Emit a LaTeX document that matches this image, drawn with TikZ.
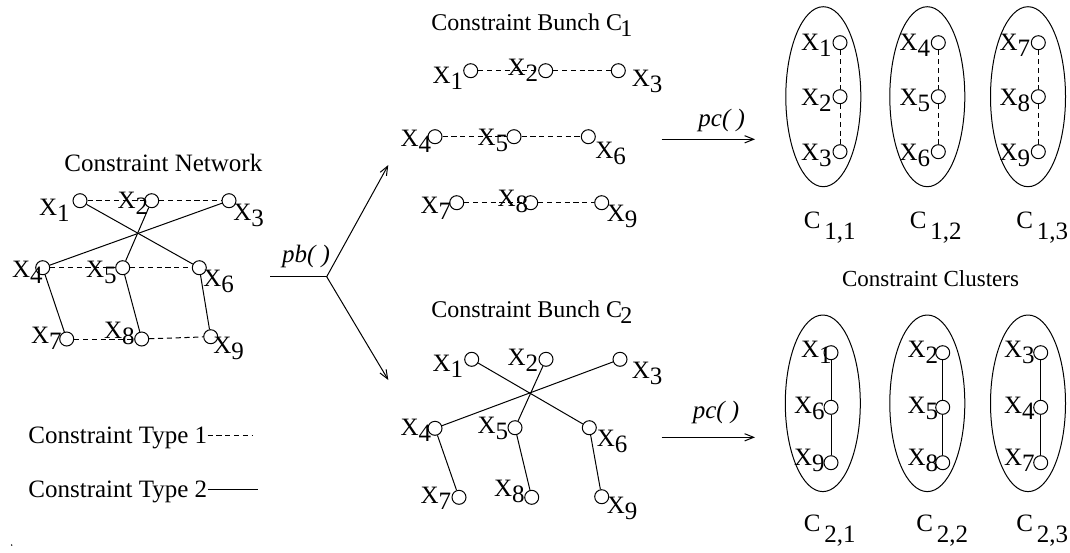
\documentclass[tikz,border=0pt]{standalone}
\usepackage{fontspec}
\setmainfont{Liberation Serif}
\usetikzlibrary{arrows.meta,positioning,shapes.geometric}
\newcommand{\figfont}{\fontsize{12.5}{15}\selectfont}
\newcommand{\lowidx}[1]{\raisebox{-.25em}{#1}}
\newcommand{\clname}[2]{C\hspace{.15em}\raisebox{-.44em}{#1,#2}}
\tikzset{
  >={Straight Barb[length=4.5pt,width=3.6pt]},
  vtx/.style={circle, draw, line width=.5pt, minimum size=7pt, inner sep=0pt},
  lbl/.style={inner sep=0pt, font=\figfont},
  typeone/.style={line width=.5pt, dash pattern=on 2.6pt off 1.8pt},
  typetwo/.style={line width=.5pt},
  flow/.style={->, line width=.5pt},
  cluster/.style={ellipse, draw, line width=.5pt, minimum width=37.5pt, inner sep=0pt}
}

\begin{document}
\begin{tikzpicture}[x=.5pt,y=-.5pt]
  \useasboundingbox (0,0) rectangle (1070,552);

  % constraint network
  \node[lbl,anchor=base] (nettitle) at (163.3,171.5) {Constraint Network};
  \foreach \i/\x/\y/\lx/\ly/\a in {1/80/200.7/70/215/base east, 2/151.7/200.7/148.5/208/base east,
      3/229/200.7/233/220/base west, 4/42.7/267.7/43/277/base east, 5/122.7/267.7/117/277/base east,
      6/199.3/267.7/203/286/base west, 7/66.7/339/62/343/base east, 8/141.7/339/135/338/base east,
      9/210.7/336.7/213/353/base west}{
    \node[vtx] (n\i) at (\x,\y) {};
    \node[lbl,anchor=\a] (nl\i) at (\lx,\ly) {X\lowidx{\i}};
  }
  \foreach \s/\t in {1/2,2/3,4/5,5/6,7/8,8/9} \draw[typeone] (n\s) -- (n\t);
  \foreach \s/\t in {1/6,3/4,2/5,4/7,5/8,6/9} \draw[typetwo] (n\s) -- (n\t);

  % legend
  \node[lbl,anchor=base west] (legone) at (28,443) {Constraint Type 1};
  \coordinate (legoneend) at (253,435);
  \draw[typeone] (legone.east |- legoneend) -- (legoneend);
  \node[lbl,anchor=base west] (legtwo) at (28,497) {Constraint Type 2};
  \coordinate (legtwoend) at (258,489);
  \draw[typetwo] (legtwo.east |- legtwoend) -- (legtwoend);
  \fill (11.7,545) circle (.8);

  % pb( ) splits the network into two bunches
  \coordinate (pbin) at (270,276.7);
  \coordinate (pbfork) at (326.7,276.7);
  \coordinate (pbup) at (388.3,165);
  \coordinate (pbdown) at (388.3,380);
  \draw[typetwo] (pbin) -- (pbfork);
  \draw[flow] (pbfork) -- (pbup);
  \draw[flow] (pbfork) -- (pbdown);
  \node[lbl,font=\figfont\itshape,anchor=base] (pblabel) at (306,262) {pb( )};

  % bunch C1: type 1 constraints only
  \node[lbl,font=\fontsize{12}{14}\selectfont,anchor=base west] (bunchone) at (431,30) {Constraint Bunch C\kern-.07em\lowidx{1}};
  \foreach \i/\x/\y/\lx/\ly/\a in {1/470.7/70.7/463.5/83.3/base east, 2/545.7/70.7/538.5/75/base east,
      3/618.3/70.7/631.5/86.7/base west, 4/435/136.7/431.5/146.7/base east, 5/514/136.7/508.5/145/base east,
      6/588.3/136.7/595/158/base west, 7/456.7/202.7/451.5/213/base east, 8/530.7/202.7/528.5/206.7/base east,
      9/601.7/202.7/606.5/221.7/base west}{
    \node[vtx] (a\i) at (\x,\y) {};
    \node[lbl,anchor=\a] (al\i) at (\lx,\ly) {X\lowidx{\i}};
  }
  \foreach \s/\t in {1/2,2/3,4/5,5/6,7/8,8/9} \draw[typeone] (a\s) -- (a\t);

  % bunch C2: type 2 constraints only
  \node[lbl,font=\fontsize{12}{14}\selectfont,anchor=base west] (bunchtwo) at (431,317.3) {Constraint Bunch C\kern-.07em\lowidx{2}};
  \foreach \i/\x/\y/\lx/\ly/\a in {1/471.7/359.3/463.5/371.7/base east, 2/546/359.3/538.5/365/base east,
      3/620/359.3/631.5/378.3/base west, 4/435/428.3/431.5/435/base east, 5/515/427.7/508.5/433/base east,
      6/589.3/427.7/596.5/446.7/base west, 7/459/497.3/451.5/503.3/base east, 8/531.7/497.3/525/496.7/base east,
      9/601.7/496.7/606.5/513.3/base west}{
    \node[vtx] (b\i) at (\x,\y) {};
    \node[lbl,anchor=\a] (bl\i) at (\lx,\ly) {X\lowidx{\i}};
  }
  \foreach \s/\t in {1/6,3/4,2/5,4/7,5/8,6/9} \draw[typetwo] (b\s) -- (b\t);

  % pc( ) arrows
  \coordinate (pcatail) at (661.7,139.3);
  \coordinate (pcahead) at (755,139.3);
  \draw[flow] (pcatail) -- (pcahead);
  \node[lbl,font=\figfont\itshape,anchor=base] (pcalabel) at (721.7,126.5) {pc( )};
  \coordinate (pcbtail) at (661.7,437.3);
  \coordinate (pcbhead) at (755,437.3);
  \draw[flow] (pcbtail) -- (pcbhead);
  \node[lbl,font=\figfont\itshape,anchor=base] (pcblabel) at (716,418) {pc( )};

  % clusters of bunch C1
  \foreach \k/\ex/\cx/\lx/\p/\q/\r/\nx in {1/823.3/840/832/1/2/3/803.5, 2/927.3/938.3/930.5/4/5/6/909.5,
      3/1028/1038.3/1030.5/7/8/9/1016}{
    \node[cluster,minimum height=90pt] (ea\k) at (\ex,96.7) {};
    \node[vtx] (ct\k) at (\cx,42.7) {};
    \node[vtx] (cm\k) at (\cx,96.7) {};
    \node[vtx] (cb\k) at (\cx,151.7) {};
    \node[lbl,anchor=base east] (ctl\k) at (\lx,50) {X\lowidx{\p}};
    \node[lbl,anchor=base east] (cml\k) at (\lx,105) {X\lowidx{\q}};
    \node[lbl,anchor=base east] (cbl\k) at (\lx,160) {X\lowidx{\r}};
    \draw[typeone] (ct\k) -- (cm\k) -- (cb\k);
    \node[lbl,anchor=base west] (ean\k) at (\nx,228.3) {\clname{1}{\k}};
  }
  \node[lbl,font=\fontsize{11.5}{14}\selectfont,anchor=base] (cltitle) at (930.5,286.7) {Constraint Clusters};

  % clusters of bunch C2
  \foreach \k/\ex/\cx/\lt/\lx/\p/\q/\r/\nx in {1/822.8/831/832/825/1/6/9/803.5, 2/927.3/942.7/938.5/938.5/2/5/8/916,
      3/1028/1040.7/1035/1035/3/4/7/1016}{
    \node[cluster,minimum height=88.3pt] (eb\k) at (\ex,403.3) {};
    \node[vtx] (dt\k) at (\cx,352.7) {};
    \node[vtx] (dm\k) at (\cx,407.3) {};
    \node[vtx] (db\k) at (\cx,462.7) {};
    \node[lbl,anchor=base east] (dtl\k) at (\lt,357) {X\lowidx{\p}};
    \node[lbl,anchor=base east] (dml\k) at (\lx,413) {X\lowidx{\q}};
    \node[lbl,anchor=base east] (dbl\k) at (\lx,465) {X\lowidx{\r}};
    \draw[typetwo] (dt\k) -- (dm\k) -- (db\k);
    \node[lbl,anchor=base west] (ebn\k) at (\nx,531.7) {\clname{2}{\k}};
  }
\end{tikzpicture}
\end{document}
